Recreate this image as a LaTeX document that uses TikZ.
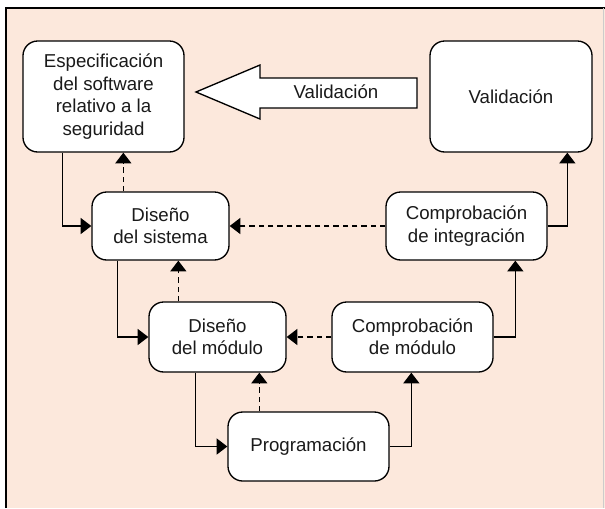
\documentclass[tikz,border=0pt]{standalone}
\usepackage{fontspec}
\setmainfont{Liberation Sans}
\usepackage{tikz}
\usetikzlibrary{calc,arrows.meta}
\usepackage{xcolor}
\definecolor{peach_bg}{HTML}{FCE8DC}
\definecolor{text_dark}{HTML}{1A1A1A}

\begin{document}
\begin{tikzpicture}[x=0.75pt, y=-0.75pt,
	box/.style={draw, fill=white, rounded corners=11pt, line width=1pt, align=center, inner sep=0pt, font=\fontsize{14}{16.8}\selectfont, text=text_dark},
	flow/.style={line width=1pt, -{Triangle[width=12pt, length=8pt]}},
	back/.style={flow, dash pattern=on 4pt off 3pt}]
	\useasboundingbox (0, 0) rectangle (605, 508);
	\fill[peach_bg] (6, 8) rectangle (605, 508);
	\draw[line width=1.5pt] (6, 508) -- (6, 8) -- (605, 8);
	\draw[gray!40] (603, 8) -- (603, 508);
	\node[box, minimum width=120.75pt, minimum height=83.25pt] (E) at (103.5, 96.5) {Especificación\\del software\\relativo a la\\seguridad};
	\node[box, minimum width=121.5pt, minimum height=83.25pt] (V) at (511, 96.5) {Validación};
	\node[box, minimum width=102.75pt, minimum height=51pt] (DS) at (160.5, 226) {Diseño\\del sistema};
	\node[box, minimum width=120.75pt, minimum height=51pt] (CI) at (466.5, 226) {Comprobación\\de integración};
	\node[box, minimum width=102.75pt, minimum height=52.5pt] (DM) at (217.5, 337) {Diseño\\del módulo};
	\node[box, minimum width=120.75pt, minimum height=52.5pt] (CM) at (412.5, 337) {Comprobación\\de módulo};
	\node[box, minimum width=120.75pt, minimum height=51.75pt] (P) at (308.5, 446.5) {Programación};
	\draw[line width=1pt, fill=white] (417, 78) -- (260, 78) -- (260, 65) -- (196, 92) -- (260, 119) -- (260, 108) -- (417, 108) -- cycle;
	\node[font=\fontsize{14}{16.8}\selectfont, text=text_dark] (VA) at (336, 92) {Validación};
	\coordinate (Edown) at ($(E.south west) + (40, 0)$);
	\coordinate (DSup) at ($(DS.north west) + (32, 0)$);
	\coordinate (DSdown) at ($(DS.south west) + (26, 0)$);
	\coordinate (DMup) at ($(DM.north west) + (30, 0)$);
	\coordinate (DMdown) at ($(DM.south west) + (47, 0)$);
	\coordinate (Pup) at ($(P.north west) + (32, 0)$);
	\draw[flow] (Edown) |- (DS);
	\draw[flow] (DSdown) |- (DM);
	\draw[flow] (DMdown) |- (P);
	\draw[flow] (P) -| ($(CM.south west) + (80, 0)$);
	\draw[flow] (CM) -| ($(CI.south west) + (130, 0)$);
	\draw[flow] (CI) -| ($(V.south west) + (138, 0)$);
	\draw[back] (DSup) -- (DSup |- E.south);
	\draw[back] (DMup) -- (DMup |- DS.south);
	\draw[back] (Pup) -- (Pup |- DM.south);
	\draw[back] (CI) -- (DS);
	\draw[back] (CM) -- (DM);
\end{tikzpicture}
\end{document}
